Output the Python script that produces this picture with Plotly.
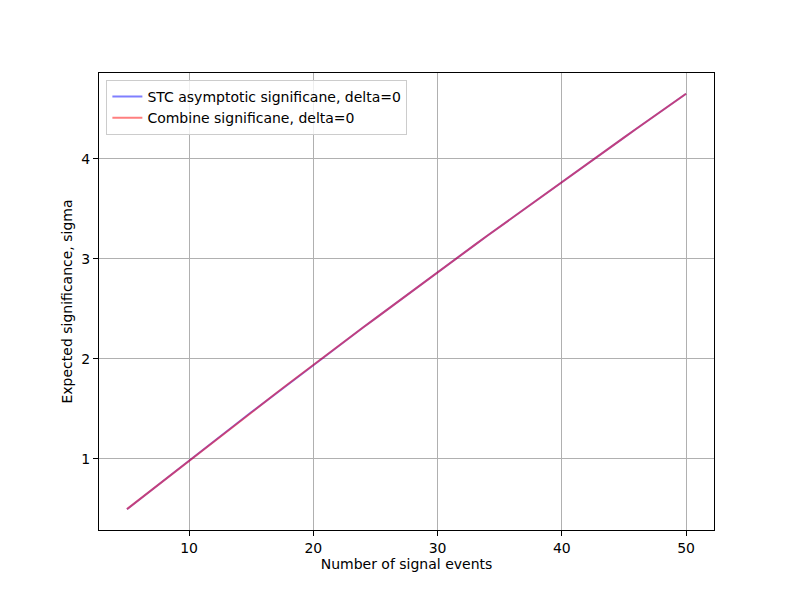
import plotly.graph_objects as go

signal_events = list(range(5, 51))
stc_significance = [0.496, 0.594, 0.692, 0.790, 0.887, 0.984, 1.081, 1.177, 1.273, 1.369,
                    1.465, 1.560, 1.655, 1.750, 1.845, 1.939, 2.032, 2.126, 2.219, 2.313,
                    2.405, 2.498, 2.590, 2.683, 2.775, 2.866, 2.958, 3.049, 3.140, 3.231,
                    3.321, 3.411, 3.501, 3.591, 3.680, 3.770, 3.859, 3.948, 4.036, 4.125,
                    4.213, 4.301, 4.389, 4.476, 4.564, 4.651]
combine_significance = [0.497, 0.594, 0.692, 0.790, 0.887, 0.985, 1.081, 1.177, 1.273, 1.369,
                        1.465, 1.560, 1.655, 1.750, 1.845, 1.939, 2.032, 2.126, 2.219, 2.313,
                        2.405, 2.498, 2.590, 2.683, 2.775, 2.866, 2.958, 3.049, 3.140, 3.231,
                        3.321, 3.411, 3.501, 3.591, 3.680, 3.770, 3.859, 3.948, 4.036, 4.125,
                        4.213, 4.301, 4.389, 4.476, 4.564, 4.651]
x_ticks = [10, 20, 30, 40, 50]
y_ticks = [1, 2, 3, 4]

font = dict(family="DejaVu Sans", size=14, color="black")

fig = go.Figure()
fig.add_trace(go.Scatter(x=signal_events, y=stc_significance, mode="lines",
                         name="STC asymptotic significane, delta=0",
                         line=dict(color="rgba(0,0,255,0.5)", width=2)))
fig.add_trace(go.Scatter(x=signal_events, y=combine_significance, mode="lines",
                         name="Combine significane, delta=0",
                         line=dict(color="rgba(255,0,0,0.5)", width=2)))

axis_common = dict(showline=True, linecolor="black", linewidth=1, mirror=True,
                   ticks="outside", ticklen=5, tickcolor="black", tickwidth=1,
                   showgrid=True, gridcolor="#b0b0b0", gridwidth=1, zeroline=False,
                   tickfont=font, automargin=False)

fig.update_layout(
    width=793, height=595,
    paper_bgcolor="white", plot_bgcolor="white",
    margin=dict(l=91, r=87, t=65, b=73),
    font=font,
    showlegend=True,
    legend=dict(x=0.012, y=0.985, xanchor="left", yanchor="top",
                bgcolor="rgba(255,255,255,0.8)", bordercolor="#cccccc", borderwidth=1,
                font=font, tracegroupgap=0, itemwidth=30),
    xaxis=dict(range=[2.75, 52.25], tickvals=x_ticks,
               title=dict(text="Number of signal events", font=font, standoff=4),
               **axis_common),
    yaxis=dict(range=[0.288, 4.859], tickvals=y_ticks,
               title=dict(text="Expected significance, sigma", font=font, standoff=5),
               **axis_common),
)

fig.write_html("out.html")
